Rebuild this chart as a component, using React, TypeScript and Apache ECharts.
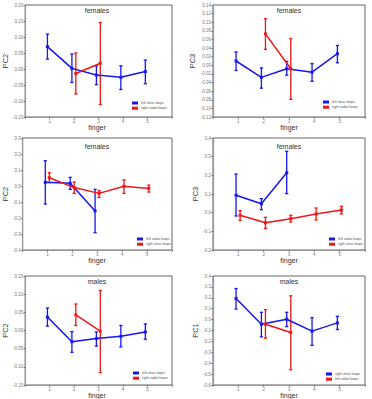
import React, { useEffect, useRef } from 'react';
import * as echarts from 'echarts';

// finger positions
const fingers = [1, 2, 3, 4, 5];
const fingers23 = [2, 3];
const fingers123 = [1, 2, 3];
const xTicks = ['', '1', '2', '3', '4', '5', ''];

// each entry: [mean, lower, upper]
const p1LeftUlnar = [[0.070, 0.031, 0.109], [0.002, -0.042, 0.047], [-0.019, -0.049, 0.010], [-0.026, -0.064, 0.010], [-0.008, -0.046, 0.028]];
const p1RightRadial = [[-0.014, -0.078, 0.050], [0.018, -0.111, 0.145]];

const p2LeftUlnar = [[0.010, -0.012, 0.031], [-0.028, -0.053, -0.006], [-0.008, -0.023, 0.009], [-0.016, -0.037, 0.004], [0.027, 0.006, 0.046]];
const p2RightRadial = [[0.073, 0.037, 0.108], [-0.008, -0.079, 0.062]];

const p3LeftRadial = [[0.023, -0.113, 0.158], [0.017, -0.021, 0.054], [-0.156, -0.292, -0.021]];
const p3RightUlnar = [[0.052, 0.021, 0.083], [-0.010, -0.046, 0.025], [-0.046, -0.071, -0.029], [-0.002, -0.046, 0.038], [-0.015, -0.038, 0.006]];

const p4LeftRadial = [[0.093, -0.018, 0.207], [0.048, 0.016, 0.075], [0.214, 0.102, 0.329]];
const p4RightUlnar = [[-0.014, -0.041, 0.011], [-0.054, -0.084, -0.025], [-0.032, -0.050, -0.014], [-0.007, -0.039, 0.025], [0.014, -0.007, 0.034]];

const p5LeftUlnar = [[0.037, 0.012, 0.062], [-0.031, -0.060, -0.003], [-0.022, -0.043, -0.004], [-0.016, -0.045, 0.014], [-0.004, -0.024, 0.018]];
const p5RightRadial = [[0.043, 0.014, 0.073], [-0.002, -0.116, 0.110]];

const p6RightUlnar = [[0.194, 0.097, 0.285], [-0.042, -0.158, 0.067], [0.003, -0.064, 0.067], [-0.106, -0.236, 0.018], [-0.030, -0.091, 0.030]];
const p6LeftRadial = [[-0.042, -0.170, 0.091], [-0.118, -0.460, 0.218]];

const BLUE = '#1616f2';
const RED = '#f21616';

type S = { name: string; x: number[]; v: number[][]; color: string };
type P = {
  grid: { left: number; top: number; width: number; height: number };
  yName: string; title: string; yMin: number; yMax: number; yStep: number; dec: number;
  a: S; b: S; legend: { left: number; top: number }; titleY: number;
};

const panels: P[] = [
  { grid: { left: 22, top: 5, width: 150, height: 112 }, yName: 'PC2', title: 'females', yMin: -0.15, yMax: 0.2, yStep: 0.05, dec: 2,
    a: { name: 'left ulnar loops', x: fingers, v: p1LeftUlnar, color: BLUE }, b: { name: 'right radial loops', x: fingers23, v: p1RightRadial, color: RED }, legend: { left: 132, top: 101 }, titleY: 10 },
  { grid: { left: 213, top: 5, width: 152, height: 112 }, yName: 'PC3', title: 'females', yMin: -0.12, yMax: 0.14, yStep: 0.02, dec: 2,
    a: { name: 'left ulnar loops', x: fingers, v: p2LeftUlnar, color: BLUE }, b: { name: 'right radial loops', x: fingers23, v: p2RightRadial, color: RED }, legend: { left: 323, top: 100 }, titleY: 10 },
  { grid: { left: 22, top: 138, width: 150, height: 112 }, yName: 'PC2', title: 'females', yMin: -0.4, yMax: 0.3, yStep: 0.1, dec: 1,
    a: { name: 'left radial loops', x: fingers123, v: p3LeftRadial, color: BLUE }, b: { name: 'right ulnar loops', x: fingers, v: p3RightUlnar, color: RED }, legend: { left: 137, top: 237 }, titleY: 146 },
  { grid: { left: 213, top: 138, width: 152, height: 112 }, yName: 'PC3', title: 'females', yMin: -0.2, yMax: 0.4, yStep: 0.1, dec: 1,
    a: { name: 'left radial loops', x: fingers123, v: p4LeftRadial, color: BLUE }, b: { name: 'right ulnar loops', x: fingers, v: p4RightUlnar, color: RED }, legend: { left: 329, top: 237 }, titleY: 146 },
  { grid: { left: 22, top: 276, width: 150, height: 109 }, yName: 'PC2', title: 'males', yMin: -0.15, yMax: 0.15, yStep: 0.05, dec: 2,
    a: { name: 'left ulnar loops', x: fingers, v: p5LeftUlnar, color: BLUE }, b: { name: 'right radial loops', x: fingers23, v: p5RightRadial, color: RED }, legend: { left: 133, top: 371 }, titleY: 281 },
  { grid: { left: 213, top: 276, width: 152, height: 109 }, yName: 'PC1', title: 'males', yMin: -0.6, yMax: 0.4, yStep: 0.1, dec: 1,
    a: { name: 'right ulnar loops', x: fingers, v: p6RightUlnar, color: BLUE }, b: { name: 'left radial loops', x: fingers23, v: p6LeftRadial, color: RED }, legend: { left: 326, top: 372 }, titleY: 281 },
];

function buildOption() {
  const grid: any[] = [];
  const xAxis: any[] = [];
  const yAxis: any[] = [];
  const series: any[] = [];
  const legend: any[] = [];
  const graphic: any[] = [];
  const font = 'Liberation Sans, Arial, sans-serif';

  panels.forEach((p, i) => {
    grid.push({ ...p.grid, show: true, borderColor: '#666', borderWidth: 1, backgroundColor: '#fff' });
    xAxis.push({
      type: 'value', gridIndex: i, min: 0, max: 6, interval: 1,
      axisLine: { show: true, onZero: false, lineStyle: { color: '#999', width: 1.2 } },
      axisTick: { show: true, length: 1.5, lineStyle: { color: '#666' } },
      axisLabel: { fontSize: 4.5, color: '#777', margin: 1.5, fontFamily: font, formatter: (v: number) => xTicks[Math.round(v)] ?? '' },
      splitLine: { show: false },
    });
    yAxis.push({
      type: 'value', gridIndex: i, min: p.yMin, max: p.yMax, interval: p.yStep,
      name: p.yName, nameLocation: 'middle', nameGap: 12, nameRotate: 90,
      nameTextStyle: { fontSize: 7.5, color: '#333333', fontFamily: font },
      axisLine: { show: true, onZero: false, lineStyle: { color: '#999', width: 1.2 } },
      axisTick: { show: true, length: 1.5, lineStyle: { color: '#666' } },
      axisLabel: { fontSize: 4.5, color: '#777', margin: 2, fontFamily: font,
        formatter: (v: number) => (Math.abs(v) < 1e-9 ? 0 : v).toFixed(p.dec) },
      splitLine: { show: false },
    });
    const pairs: [S, number][] = [[p.a, -0.09], [p.b, 0.07]];
    pairs.forEach(([s, off]) => {
      const color = s.color;
      series.push({
        type: 'custom', xAxisIndex: i, yAxisIndex: i, z: 2,
        data: s.x.map((x, j) => [x + off, s.v[j][1], s.v[j][2]]),
        encode: { x: 0, y: [1, 2] },
        renderItem: (params: any, api: any) => {
          const x = api.value(0);
          const hi = api.coord([x, api.value(2)]);
          const lo = api.coord([x, api.value(1)]);
          const w = 1.6;
          const st = { stroke: color, lineWidth: 1.3 };
          return {
            type: 'group',
            children: [
              { type: 'line', shape: { x1: hi[0], y1: hi[1], x2: lo[0], y2: lo[1] }, style: st },
              { type: 'line', shape: { x1: hi[0] - w, y1: hi[1], x2: hi[0] + w, y2: hi[1] }, style: st },
              { type: 'line', shape: { x1: lo[0] - w, y1: lo[1], x2: lo[0] + w, y2: lo[1] }, style: st },
            ],
          };
        },
      });
      series.push({
        type: 'line', name: s.name, xAxisIndex: i, yAxisIndex: i, z: 3,
        data: s.x.map((x, j) => [x + off, s.v[j][0]]),
        symbol: 'rect', symbolSize: 3, showSymbol: true,
        lineStyle: { color, width: 1.5 }, itemStyle: { color },
      });
    });
    legend.push({
      left: p.legend.left, top: p.legend.top, orient: 'vertical',
      itemWidth: 6, itemHeight: 3, itemGap: 1.2, padding: 0,
      selectedMode: false, icon: 'rect',
      textStyle: { fontSize: 3.5, color: '#555', fontFamily: font, padding: [0, 0, 0, -2] },
      data: [
        { name: p.a.name, itemStyle: { color: p.a.color } },
        { name: p.b.name, itemStyle: { color: p.b.color } },
      ],
    });
    graphic.push({
      type: 'text', x: p.grid.left + p.grid.width / 2, y: p.titleY, z: 10,
      style: { text: p.title, fontSize: 7, fill: '#333', fontFamily: font, textAlign: 'center', textVerticalAlign: 'middle' },
    });
    graphic.push({
      type: 'text', x: p.grid.left + p.grid.width / 2, y: p.grid.top + p.grid.height + 10.5, z: 10,
      style: { text: 'finger', fontSize: 7, fill: '#333', fontFamily: font, textAlign: 'center', textVerticalAlign: 'middle' },
    });
  });

  return { animation: false, backgroundColor: '#fff', grid, xAxis, yAxis, series, legend, graphic };
}

export default function App() {
  const ref = useRef<HTMLDivElement>(null);
  useEffect(() => {
    document.body.style.margin = '0';
    const chart = echarts.init(ref.current!, undefined, { renderer: 'svg' });
    chart.setOption(buildOption());
    return () => chart.dispose();
  }, []);
  return <div ref={ref} style={{ width: 372, height: 399 }} />;
}
